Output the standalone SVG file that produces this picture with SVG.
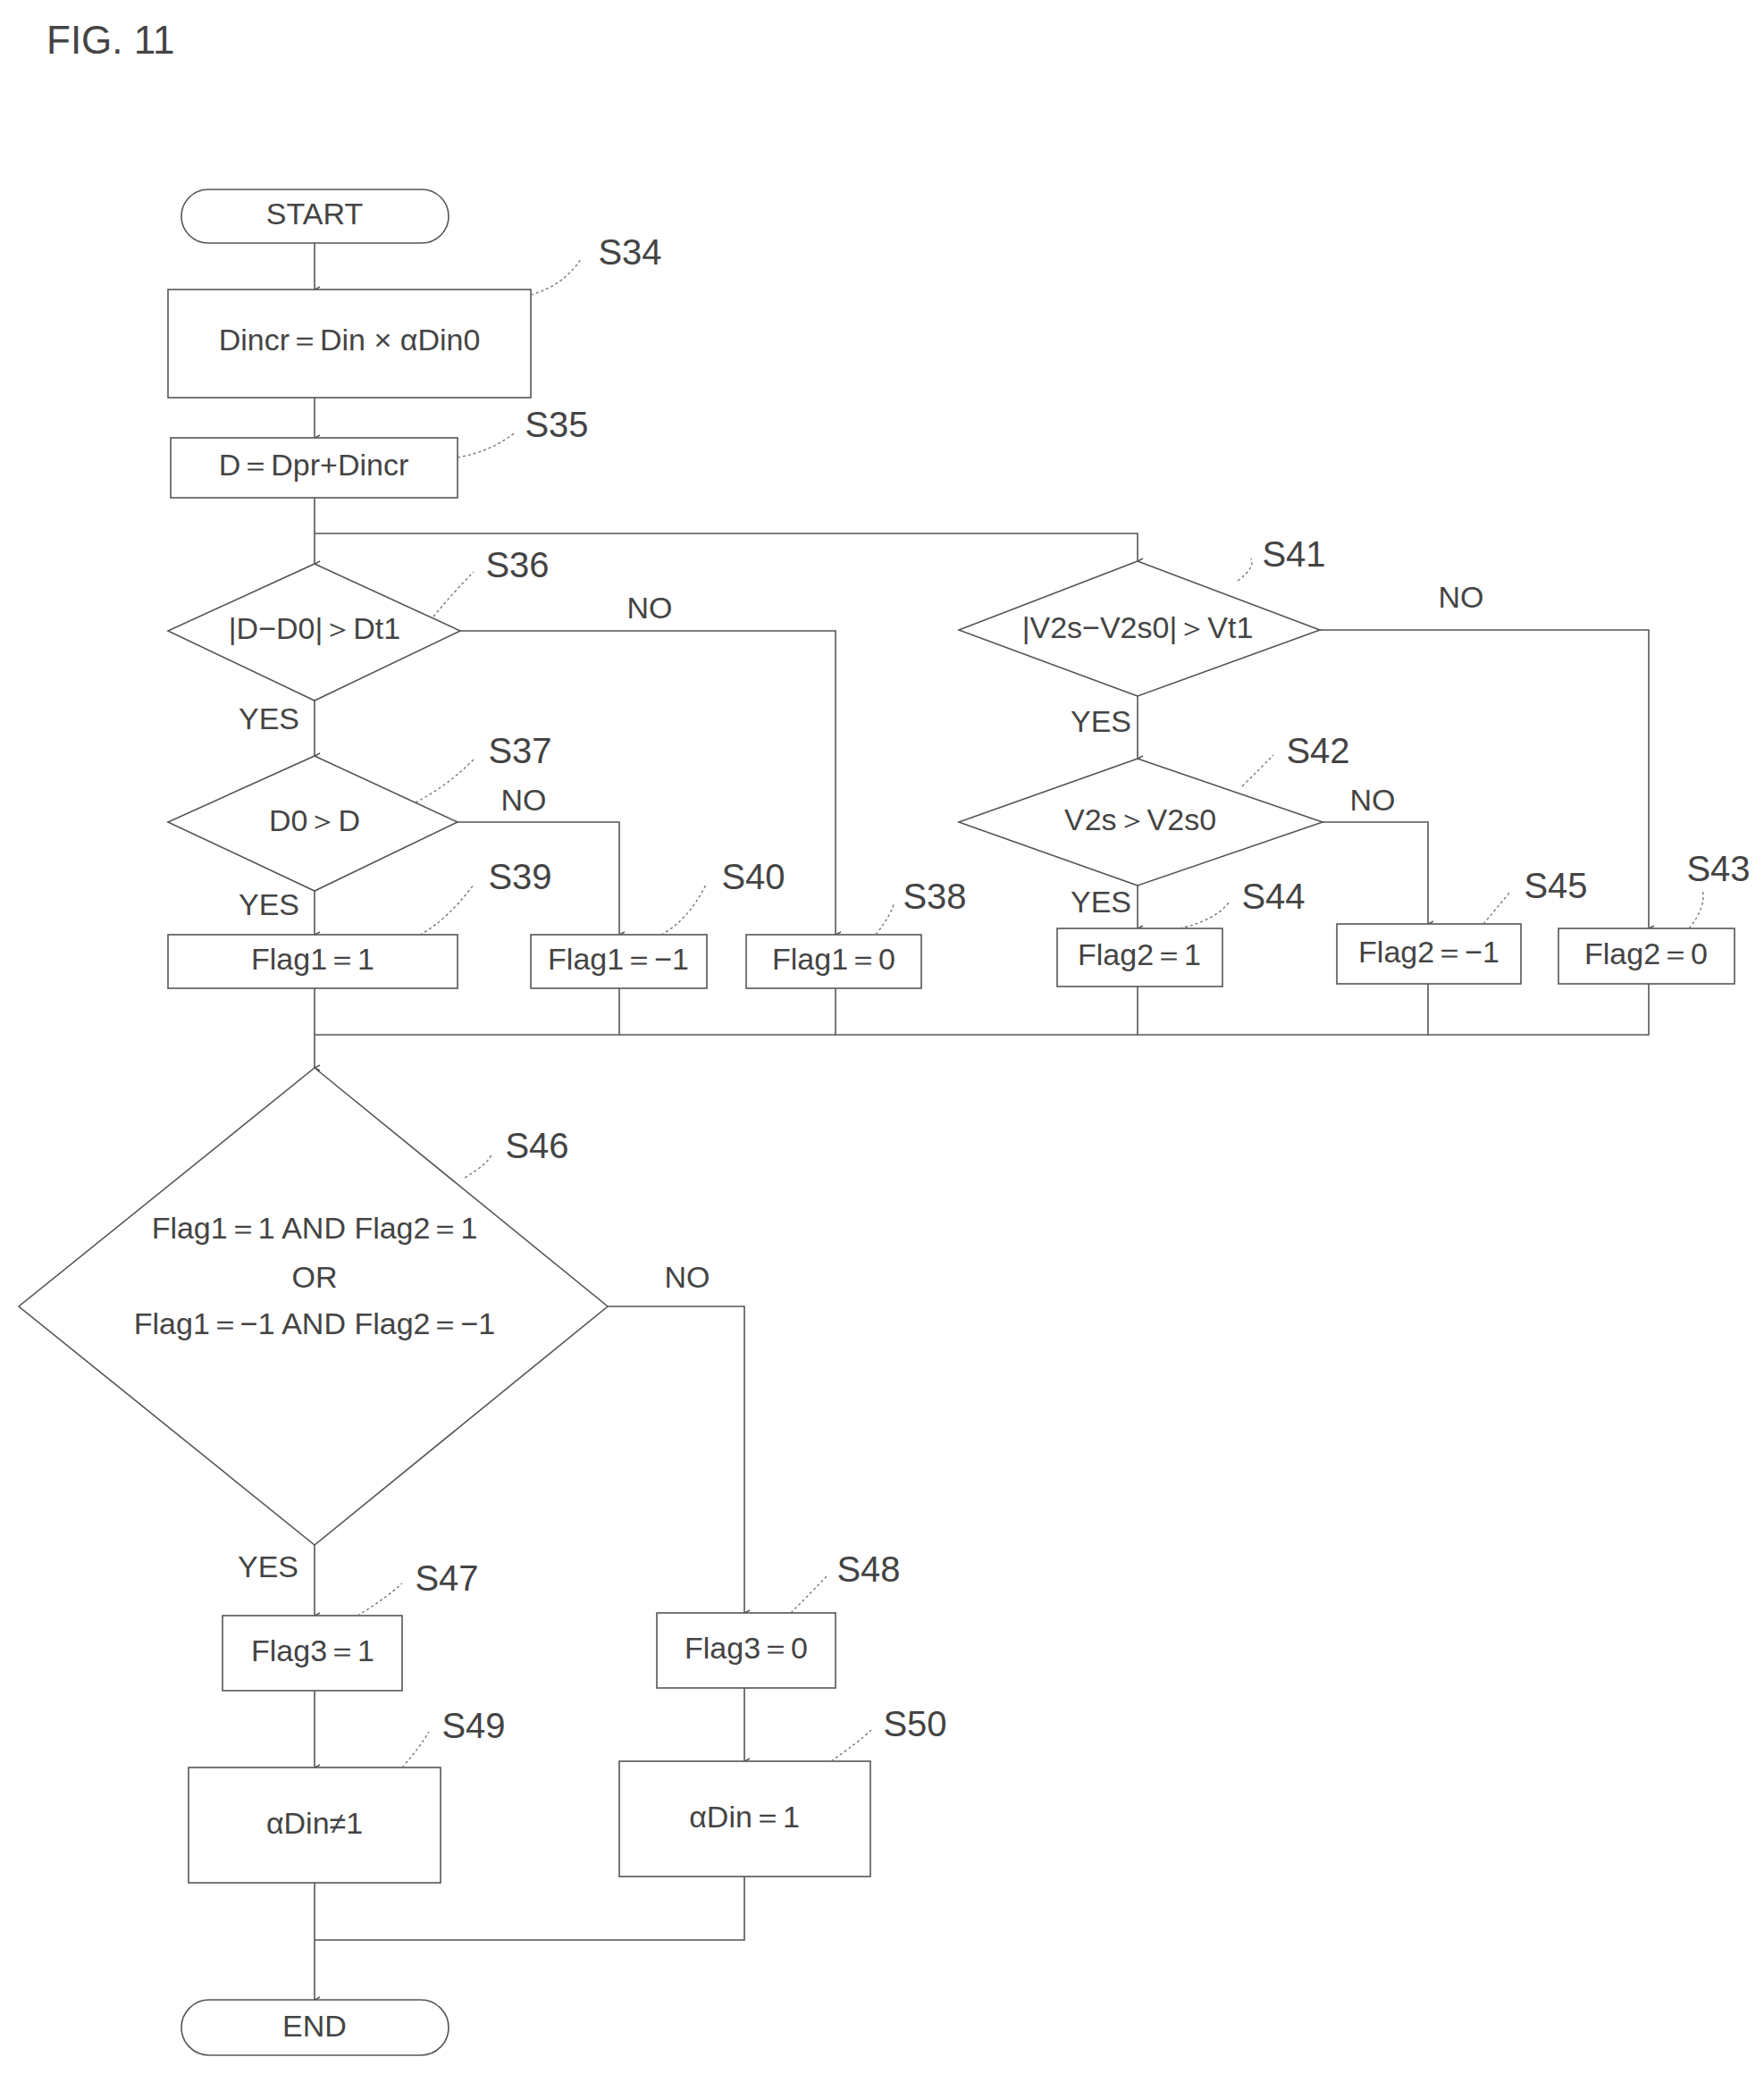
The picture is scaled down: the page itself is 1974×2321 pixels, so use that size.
<svg xmlns="http://www.w3.org/2000/svg" width="1974" height="2321" viewBox="0 0 1974 2321">
<style>
.s{fill:#fff;stroke:#555;stroke-width:1.6}
.c{fill:none;stroke:#555;stroke-width:1.6}
.l{fill:none;stroke:#777;stroke-width:1.4;stroke-dasharray:3 3}
text{font-family:"Liberation Sans",Arial,sans-serif;font-size:34px;fill:#444;text-anchor:middle;dominant-baseline:middle}
.lb{font-size:40px}
</style>
<defs><marker id="a" markerWidth="10" markerHeight="10" refX="5" refY="9" orient="auto-start-reverse" markerUnits="userSpaceOnUse" viewBox="0 0 10 10"><path d="M2,3 L5,9 L8,3" fill="none" stroke="#555" stroke-width="1.4"/></marker></defs>
<rect width="1974" height="2321" fill="#fff"/>
<text x="52" y="48" class="lb" style="text-anchor:start;font-size:44px">FIG. 11</text>
<g id="connectors">
<path class="c" d="M352,272V324" marker-end="url(#a)"/>
<path class="c" d="M352,445V490" marker-end="url(#a)"/>
<path class="c" d="M352,557V631" marker-end="url(#a)"/>
<path class="c" d="M352,597H1273V628" marker-end="url(#a)"/>
<path class="c" d="M352,784V846" marker-end="url(#a)"/>
<path class="c" d="M515,706H935V1046" marker-end="url(#a)"/>
<path class="c" d="M352,997V1046" marker-end="url(#a)"/>
<path class="c" d="M512,920H693V1046" marker-end="url(#a)"/>
<path class="c" d="M1273,779V849" marker-end="url(#a)"/>
<path class="c" d="M1477,705H1845V1039" marker-end="url(#a)"/>
<path class="c" d="M1273,991V1039" marker-end="url(#a)"/>
<path class="c" d="M1480,920H1598V1034" marker-end="url(#a)"/>
<path class="c" d="M352,1106V1195" marker-end="url(#a)"/>
<path class="c" d="M352,1158H1845V1101M693,1106V1158M935,1106V1158M1273,1104V1158M1598,1101V1158"/>
<path class="c" d="M352,1729V1808" marker-end="url(#a)"/>
<path class="c" d="M680,1462H833V1805" marker-end="url(#a)"/>
<path class="c" d="M352,1892V1978" marker-end="url(#a)"/>
<path class="c" d="M833,1889V1971" marker-end="url(#a)"/>
<path class="c" d="M352,2107V2238" marker-end="url(#a)"/>
<path class="c" d="M833,2100V2171H352"/>
</g>
<g id="start"><rect class="s" x="203" y="212" width="299" height="60" rx="30"/><text x="352" y="242">START</text></g>
<g id="S34"><rect class="s" x="188" y="324" width="406" height="121"/><text x="391" y="383">Dincr＝Din × αDin0</text></g>
<g id="S35"><rect class="s" x="191" y="490" width="321" height="67"/><text x="351" y="523">D＝Dpr+Dincr</text></g>
<g id="S36"><polygon class="s" points="352,631 515,706 352,784 188,706"/><text x="352" y="706">|D−D0|＞Dt1</text></g>
<g id="S37"><polygon class="s" points="352,846 512,920 352,997 188,920"/><text x="352" y="921">D0＞D</text></g>
<g id="S39"><rect class="s" x="188" y="1046" width="324" height="60"/><text x="350" y="1076">Flag1＝1</text></g>
<g id="S40"><rect class="s" x="594" y="1046" width="197" height="60"/><text x="692" y="1076">Flag1＝−1</text></g>
<g id="S38"><rect class="s" x="835" y="1046" width="196" height="60"/><text x="933" y="1076">Flag1＝0</text></g>
<g id="S41"><polygon class="s" points="1273,628 1477,705 1273,779 1073,705"/><text x="1273" y="705">|V2s−V2s0|＞Vt1</text></g>
<g id="S42"><polygon class="s" points="1273,849 1480,920 1273,991 1073,920"/><text x="1276" y="920">V2s＞V2s0</text></g>
<g id="S44"><rect class="s" x="1183" y="1039" width="185" height="65"/><text x="1275" y="1071">Flag2＝1</text></g>
<g id="S45"><rect class="s" x="1496" y="1034" width="206" height="67"/><text x="1599" y="1068">Flag2＝−1</text></g>
<g id="S43"><rect class="s" x="1744" y="1039" width="197" height="62"/><text x="1842" y="1070">Flag2＝0</text></g>
<g id="S46"><polygon class="s" points="352,1195 680,1462 352,1729 21,1462"/><text x="352" y="1377">Flag1＝1 AND Flag2＝1</text><text x="352" y="1432">OR</text><text x="352" y="1484">Flag1＝−1 AND Flag2＝−1</text></g>
<g id="S47"><rect class="s" x="249" y="1808" width="201" height="84"/><text x="350" y="1850">Flag3＝1</text></g>
<g id="S48"><rect class="s" x="735" y="1805" width="200" height="84"/><text x="835" y="1847">Flag3＝0</text></g>
<g id="S49"><rect class="s" x="211" y="1978" width="282" height="129"/><text x="352" y="2043">αDin≠1</text></g>
<g id="S50"><rect class="s" x="693" y="1971" width="281" height="129"/><text x="833" y="2036">αDin＝1</text></g>
<g id="end"><rect class="s" x="203" y="2238" width="299" height="62" rx="31"/><text x="352" y="2270">END</text></g>
<g id="labels">
<text x="727" y="683">NO</text><text x="1635" y="671">NO</text><text x="586" y="898">NO</text><text x="1536" y="898">NO</text><text x="769" y="1432">NO</text>
<text x="301" y="807">YES</text><text x="301" y="1015">YES</text><text x="1232" y="810">YES</text><text x="1232" y="1012">YES</text><text x="300" y="1756">YES</text>
<text class="lb" x="705" y="285">S34</text><text class="lb" x="623" y="478">S35</text><text class="lb" x="579" y="635">S36</text><text class="lb" x="582" y="843">S37</text><text class="lb" x="582" y="984">S39</text><text class="lb" x="843" y="984">S40</text><text class="lb" x="1046" y="1006">S38</text><text class="lb" x="1448" y="623">S41</text><text class="lb" x="1475" y="843">S42</text><text class="lb" x="1425" y="1006">S44</text><text class="lb" x="1741" y="994">S45</text><text class="lb" x="1923" y="975">S43</text><text class="lb" x="601" y="1285">S46</text><text class="lb" x="500" y="1769">S47</text><text class="lb" x="972" y="1759">S48</text><text class="lb" x="530" y="1934">S49</text><text class="lb" x="1024" y="1932">S50</text>
<path class="l" d="M594,330Q630,320 650,290"/><path class="l" d="M512,512Q550,505 575,485"/><path class="l" d="M485,690Q510,660 530,640"/><path class="l" d="M465,898Q500,880 530,850"/><path class="l" d="M470,1046Q500,1030 530,990"/><path class="l" d="M740,1046Q770,1030 790,990"/><path class="l" d="M980,1046Q1000,1020 1000,1010"/><path class="l" d="M1385,650Q1405,635 1400,625"/><path class="l" d="M1390,880Q1410,860 1425,845"/><path class="l" d="M1320,1039Q1360,1030 1375,1010"/><path class="l" d="M1660,1034Q1680,1010 1690,998"/><path class="l" d="M1890,1039Q1910,1015 1905,995"/><path class="l" d="M520,1318Q550,1300 550,1290"/><path class="l" d="M400,1808Q430,1790 450,1772"/><path class="l" d="M885,1805Q910,1780 925,1764"/><path class="l" d="M450,1978Q470,1955 480,1938"/><path class="l" d="M930,1971Q960,1950 975,1936"/>
</g>
</svg>
